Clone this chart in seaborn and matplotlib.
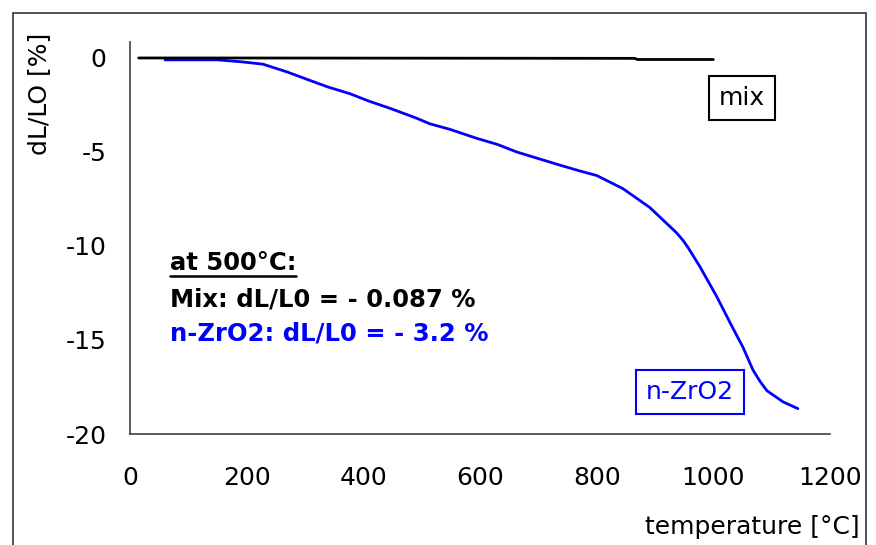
import numpy as np
import pandas as pd
import matplotlib
matplotlib.use("Agg")
import matplotlib.pyplot as plt
import seaborn as sns
from matplotlib.patches import Rectangle
from matplotlib.lines import Line2D

# data
mix_T = [15, 150, 865, 870, 1000]
mix_dL = [0.0, 0.0, -0.02, -0.08, -0.08]

zro2_T = [60, 150, 190, 228, 270, 309, 340, 377, 410, 446, 491, 514, 549, 594,
          630, 663, 700, 737, 770, 800, 845, 891, 937, 948, 957, 977, 1006, 1029,
          1051, 1068, 1080, 1092, 1120, 1145]
zro2_dL = [-0.1, -0.1, -0.2, -0.33, -0.75, -1.2, -1.55, -1.9, -2.3, -2.68, -3.2,
           -3.5, -3.8, -4.27, -4.6, -5.0, -5.35, -5.7, -6.0, -6.25, -6.95, -7.95,
           -9.3, -9.7, -10.1, -11.1, -12.7, -14.1, -15.4, -16.6, -17.2, -17.7,
           -18.3, -18.65]

x_ticks = [0, 200, 400, 600, 800, 1000, 1200]
y_ticks = [0, -5, -10, -15, -20]

sns.set_style("white")
plt.rcParams['font.family'] = ['DejaVu Sans']
plt.rcParams['axes.unicode_minus'] = False
plt.rcParams['text.color'] = 'black'
plt.rcParams['axes.labelcolor'] = 'black'

fig = plt.figure(figsize=(8.76, 5.45), dpi=100)
ax = fig.add_axes([130/876, 1-434/545, 700/876, 392/545])

sns.lineplot(x=zro2_T, y=zro2_dL, color='#0000ff', lw=2.0, sort=False,
             estimator=None, ax=ax)
sns.lineplot(x=mix_T, y=mix_dL, color='black', lw=2.0, sort=False,
             estimator=None, ax=ax)

ax.set_xlim(0, 1200)
ax.set_ylim(-20, 0.85)
ax.set_xticks(x_ticks)
ax.set_yticks(y_ticks)
ax.tick_params(axis='both', direction='out', length=7, width=1, color='#404040',
               labelsize=18, labelcolor='black')
ax.tick_params(axis='x', pad=16)
ax.tick_params(axis='y', pad=10)
for s in ['top', 'right']:
    ax.spines[s].set_visible(False)
for s in ['left', 'bottom']:
    ax.spines[s].set_color('#404040')
    ax.spines[s].set_linewidth(1.2)

ax.set_xlabel("temperature [°C]", fontsize=18, ha='right', va='center')
ax.xaxis.set_label_coords(1.043, -0.237)
ax.set_ylabel("dL/LO [%]", fontsize=18, ha='center', va='center')
ax.yaxis.set_label_coords(-0.13, 0.867)

# series labels in boxes
ax.text(1049, -2.14, "mix", fontsize=18, ha='center', va='center',
        bbox=dict(boxstyle='square,pad=0.4', fc='white', ec='black', lw=1.5))
ax.text(960, -17.78, "n-ZrO2", fontsize=18, color='#0000ff', ha='center', va='center',
        bbox=dict(boxstyle='square,pad=0.4', fc='white', ec='#0000ff', lw=1.5))

# notes at 500 C
t_head = ax.text(68, -10.9, "at 500°C:", fontsize=17.5, fontweight='bold',
                 ha='left', va='center')
ax.text(68, -12.85, "Mix: dL/L0 = - 0.087 %", fontsize=17.5, fontweight='bold',
        ha='left', va='center')
ax.text(68, -14.65, "n-ZrO2: dL/L0 = - 3.2 %", fontsize=17.5, fontweight='bold',
        color='#0000ff', ha='left', va='center')

fig.canvas.draw()
bb = t_head.get_window_extent()
fig.add_artist(Line2D([bb.x0, bb.x1], [bb.y0 - 1, bb.y0 - 1], transform=None,
                      color='black', lw=1.8))

# outer frame
fig.add_artist(Rectangle((13/876, -0.05), (866-13)/876, 1-13/545+0.05,
                         transform=fig.transFigure, fill=False,
                         edgecolor='#333333', lw=1.2))

fig.savefig("out.png", dpi=100)
